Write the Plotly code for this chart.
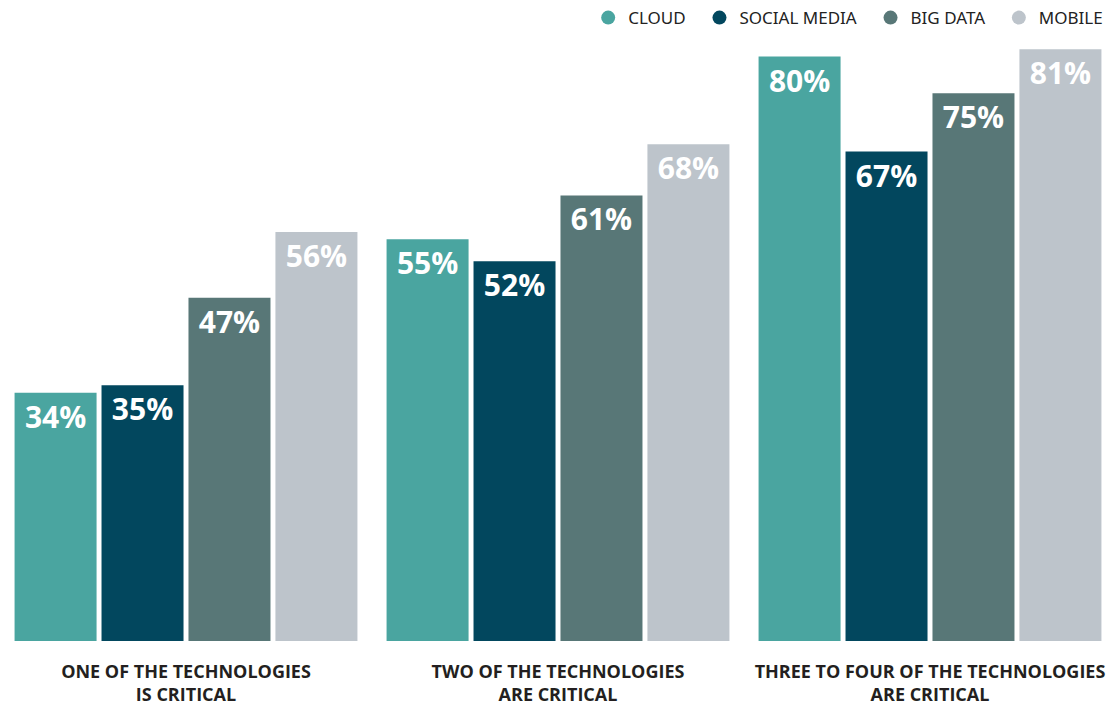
import plotly.graph_objects as go

categories = ["ONE OF THE TECHNOLOGIES<br>IS CRITICAL",
              "TWO OF THE TECHNOLOGIES<br>ARE CRITICAL",
              "THREE TO FOUR OF THE TECHNOLOGIES<br>ARE CRITICAL"]
series_names = ["CLOUD", "SOCIAL MEDIA", "BIG DATA", "MOBILE"]
cloud = [34, 55, 80]
social_media = [35, 52, 67]
big_data = [47, 61, 75]
mobile = [56, 68, 81]
colors = ["#4aa5a0", "#02475e", "#587777", "#bdc4cb"]

values = [cloud, social_media, big_data, mobile]

fig = go.Figure()
for name, vals, col in zip(series_names, values, colors):
    fig.add_trace(go.Bar(
        x=categories, y=vals, name=name, marker_color=col, marker_line_width=0,
        text=[f"{v}%" for v in vals], textposition="inside", insidetextanchor="end",
        textangle=0,
        textfont=dict(family="Open Sans", size=30, color="white", weight="bold"),
        showlegend=False, hoverinfo="skip",
    ))
pad = "\u00a0" * 2
for name, col in zip(series_names, colors):
    fig.add_trace(go.Scatter(
        x=[None], y=[None], mode="markers", name=(name + pad) if name != "MOBILE" else name,
        marker=dict(symbol="circle", size=14, color=col),
    ))

fig.update_layout(
    width=1116, height=706,
    margin=dict(l=0, r=0, t=40, b=65),
    paper_bgcolor="white", plot_bgcolor="white",
    barmode="group", bargap=0.065, bargroupgap=0.057,
    uniformtext=dict(mode=False),
    legend=dict(orientation="h", x=0.993, xanchor="right", y=1.07, yanchor="top",
                font=dict(family="Noto Sans", size=17, color="#222222"),
                itemwidth=30, traceorder="normal"),
    xaxis=dict(showgrid=False, showline=False, ticks="", zeroline=False,
               ticklabelstandoff=18,
               tickfont=dict(family="Open Sans", size=18, color="#231f20", weight="bold")),
    yaxis=dict(range=[0, 82], visible=False, showgrid=False, zeroline=False),
)
fig.write_html("out.html")
